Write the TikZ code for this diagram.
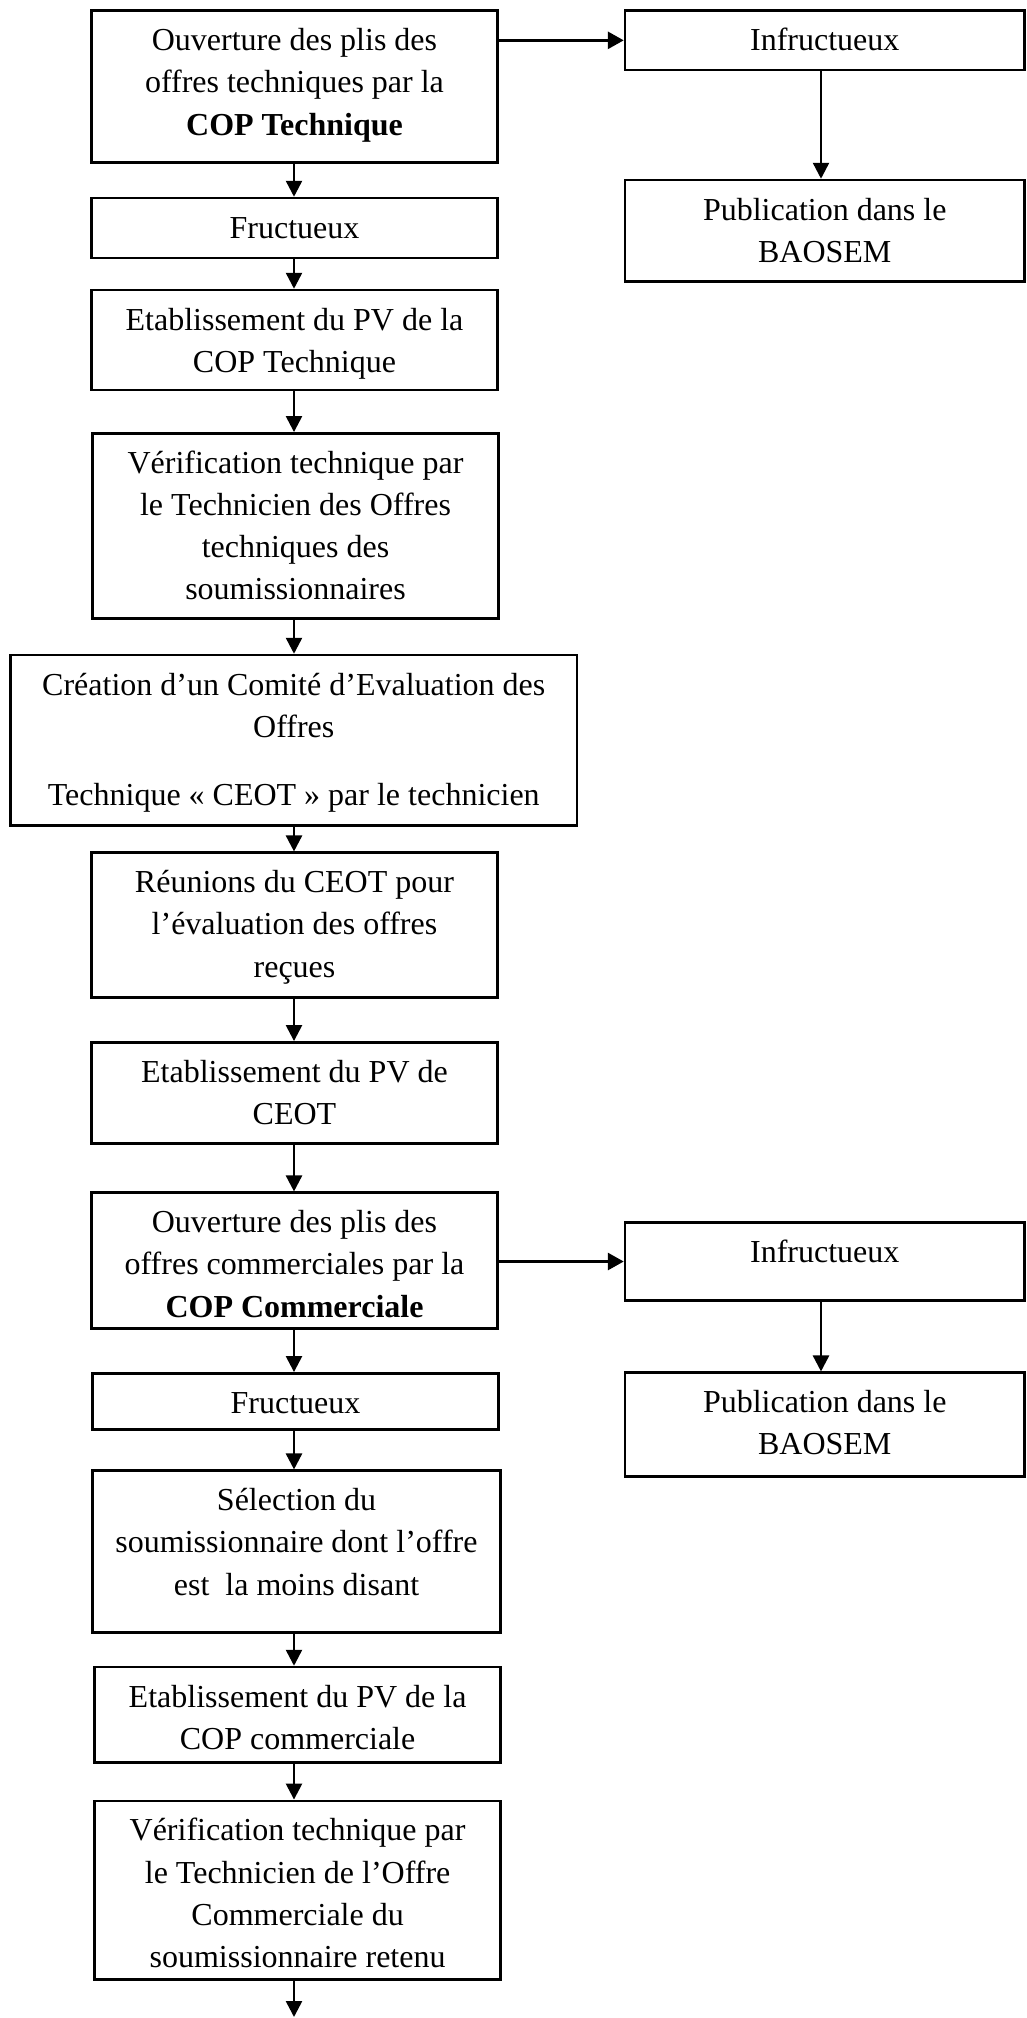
\documentclass[tikz,border=0pt]{standalone}
\usepackage{fontspec}
\setmainfont{Liberation Serif}
\usetikzlibrary{arrows.meta}

% box contents: width, height, text (top aligned, first baseline 40pt below the top edge)
\newcommand{\cellbox}[3]{\parbox[c][#2pt][t]{#1pt}{\centering\rule{0pt}{40pt}#3}}

\begin{document}
\begin{tikzpicture}[x=1pt,y=-1pt,
  stepbox/.style={draw, line width=2.5pt, inner sep=0pt, rectangle},
  arr/.style={line width=2.5pt, -{Triangle[length=16pt,width=16pt]}},
  arrh/.style={line width=3pt, -{Triangle[length=16pt,width=17pt]}}]
\useasboundingbox (0,0) rectangle (1026,2018);
\fontsize{32}{42.2}\selectfont

% axes of the two columns of connectors
\coordinate (spine) at (294,0);
\coordinate (rspine) at (821,0);

% left column
\node[stepbox] (ouv1) at (294.5,86.7) {\cellbox{406}{152}{Ouverture des plis des\\ offres techniques par la\\ \textbf{COP Technique}}};
\node[stepbox] (fru1) at (294.5,228) {\cellbox{406}{60}{Fructueux}};
\node[stepbox] (pv1) at (294.5,340) {\cellbox{406}{100}{Etablissement du PV de la\\ COP Technique}};
\node[stepbox] (ver1) at (295.5,525.8) {\cellbox{406}{185}{Vérification technique par\\ le Technicien des Offres\\ techniques des\\ soumissionnaires}};
\node[stepbox] (cre) at (293.75,740.35) {\cellbox{566.5}{170.7}{Création d’un Comité d’Evaluation des\\ Offres\\[26pt] Technique « CEOT » par le technicien}};
\node[stepbox] (reu) at (294.5,925) {\cellbox{406}{144.6}{Réunions du CEOT pour\\ l’évaluation des offres\\ reçues}};
\node[stepbox] (pvc) at (294.5,1092.8) {\cellbox{406}{101}{Etablissement du PV de\\ CEOT}};
\node[stepbox] (ouv2) at (294.5,1260.6) {\cellbox{406}{135.8}{Ouverture des plis des\\ offres commerciales par la\\ \textbf{COP Commerciale}}};
\node[stepbox] (fru2) at (295.5,1401.4) {\cellbox{406.4}{56.2}{Fructueux}};
\node[stepbox] (sel) at (296.5,1551.7) {\cellbox{408.4}{162}{Sélection du\\ soumissionnaire dont l’offre\\ est~~la moins disant}};
\node[stepbox] (pv2) at (297.6,1714.65) {\cellbox{406.2}{95.3}{Etablissement du PV de la\\ COP commerciale}};
\node[stepbox] (ver2) at (297.6,1890.05) {\cellbox{406.2}{178.5}{Vérification technique par\\ le Technicien de l’Offre\\ Commerciale du\\ soumissionnaire retenu}};
\coordinate (fin) at (294,2017);

% right column
\node[stepbox] (inf1) at (824.75,40.35) {\cellbox{399.5}{59.3}{Infructueux}};
\node[stepbox] (pub1) at (824.75,230.85) {\cellbox{399.5}{101.7}{Publication dans le\\ BAOSEM}};
\node[stepbox] (inf2) at (824.75,1261.5) {\cellbox{399.5}{78}{Infructueux}};
\node[stepbox] (pub2) at (824.75,1424.6) {\cellbox{399.5}{103.8}{Publication dans le\\ BAOSEM}};

% main flow
\draw[arr] (ouv1.south -| spine) -- (fru1.north -| spine);
\draw[arr] (fru1.south -| spine) -- (pv1.north -| spine);
\draw[arr] (pv1.south -| spine) -- (ver1.north -| spine);
\draw[arr] (ver1.south -| spine) -- (cre.north -| spine);
\draw[arr] (cre.south -| spine) -- (reu.north -| spine);
\draw[arr] (reu.south -| spine) -- (pvc.north -| spine);
\draw[arr] (pvc.south -| spine) -- (ouv2.north -| spine);
\draw[arr] (ouv2.south -| spine) -- (fru2.north -| spine);
\draw[arr] (fru2.south -| spine) -- (sel.north -| spine);
\draw[arr] (sel.south -| spine) -- (pv2.north -| spine);
\draw[arr] (pv2.south -| spine) -- (ver2.north -| spine);
\draw[arr] (ver2.south -| fin) -- (fin);

% unsuccessful branches
\draw[arrh] (ouv1.east |- inf1.west) -- (inf1.west);
\draw[arr] (inf1.south -| rspine) -- (pub1.north -| rspine);
\draw[arrh] (ouv2.east |- inf2.west) -- (inf2.west);
\draw[arr] (inf2.south -| rspine) -- (pub2.north -| rspine);
\end{tikzpicture}
\end{document}
